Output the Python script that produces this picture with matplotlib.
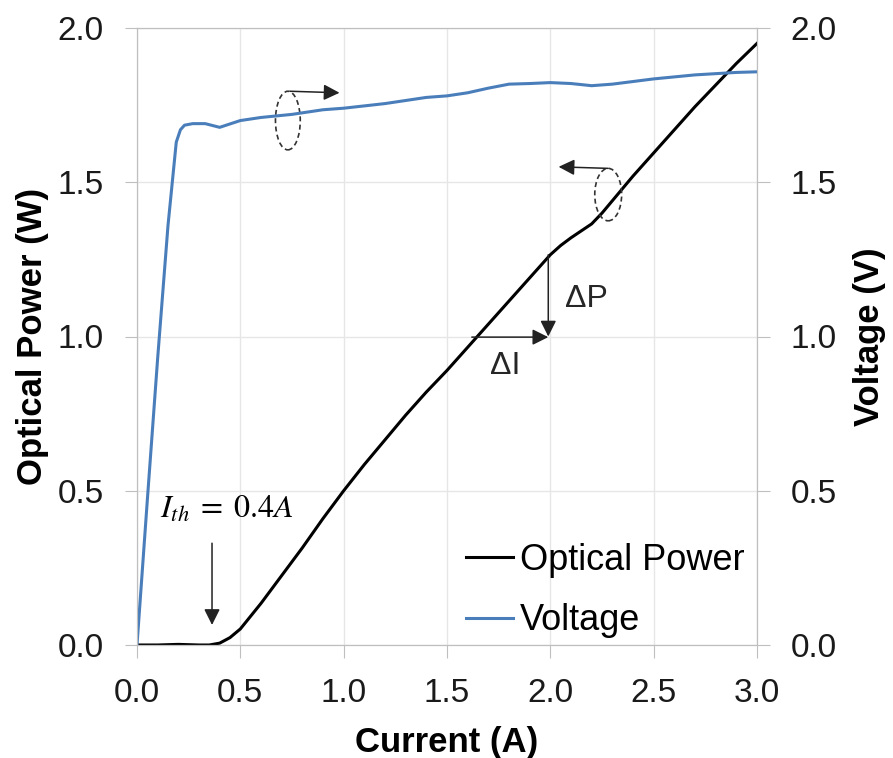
import matplotlib
matplotlib.use("Agg")
import matplotlib.pyplot as plt
from matplotlib.patches import Ellipse

# L-I-V data
current_p = [0, 0.1, 0.2, 0.3, 0.35, 0.4, 0.45, 0.5, 0.6, 0.7, 0.8, 0.9, 1.0, 1.1, 1.2,
             1.3, 1.4, 1.5, 1.6, 1.7, 1.8, 1.9, 2.0, 2.05, 2.1, 2.2, 2.25, 2.3, 2.4, 2.5,
             2.6, 2.7, 2.8, 2.9, 3.0]
power = [0, 0, 0.002, 0, 0, 0.006, 0.024, 0.052, 0.135, 0.225, 0.315, 0.41, 0.5, 0.585,
         0.665, 0.745, 0.82, 0.89, 0.965, 1.04, 1.115, 1.19, 1.265, 1.295, 1.32, 1.365,
         1.40, 1.44, 1.52, 1.595, 1.67, 1.745, 1.815, 1.885, 1.95]

current_v = [0, 0.05, 0.1, 0.15, 0.19, 0.21, 0.23, 0.27, 0.33, 0.4, 0.5, 0.6, 0.75, 0.9,
             1.0, 1.2, 1.4, 1.5, 1.6, 1.7, 1.8, 1.9, 2.0, 2.1, 2.2, 2.3, 2.5, 2.7, 2.9, 3.0]
voltage = [0, 0.47, 0.93, 1.36, 1.63, 1.67, 1.685, 1.69, 1.69, 1.678, 1.70, 1.71, 1.72,
           1.735, 1.74, 1.755, 1.775, 1.78, 1.79, 1.805, 1.818, 1.82, 1.823, 1.82, 1.813,
           1.818, 1.835, 1.848, 1.856, 1.858]

ticks = [0.0, 0.5, 1.0, 1.5, 2.0]
xticks = [0.0, 0.5, 1.0, 1.5, 2.0, 2.5, 3.0]

plt.rcParams['font.family'] = ['Liberation Sans', 'DejaVu Sans']
plt.rcParams['mathtext.fontset'] = 'stix'

fig = plt.figure(figsize=(8.93, 7.58), dpi=100)
ax1 = fig.add_axes([137/893, 1 - 645/758, 620/893, 617/758])
ax2 = ax1.twinx()

gray = '#BFBFBF'
l1, = ax1.plot(current_p, power, color='black', lw=2.2)
l2, = ax2.plot(current_v, voltage, color='#4A7EBB', lw=2.2)

for ax in (ax1, ax2):
    ax.set_xlim(0, 3.0)
    ax.set_ylim(0, 2.0)
    ax.set_yticks(ticks)
    ax.set_yticklabels(['%.1f' % t for t in ticks])
    for s in ax.spines.values():
        s.set_color(gray)
ax1.set_xticks(xticks)
ax1.set_xticklabels(['%.1f' % t for t in xticks])
ax1.grid(True, color='#E6E6E6', lw=1)
ax1.set_axisbelow(True)
ax1.tick_params(direction='out', length=9, color=gray, labelsize=24, pad=15,
                labelcolor='#1a1a1a')
ax2.tick_params(direction='out', length=9, color=gray, labelsize=24, pad=15,
                labelcolor='#1a1a1a')

ax1.set_xlabel('Current (A)', fontsize=25, fontweight='bold', labelpad=12)
ax1.set_ylabel('Optical Power (W)', fontsize=25, fontweight='bold', labelpad=6)
ax2.set_ylabel('Voltage (V)', fontsize=25, fontweight='bold', labelpad=12)

# annotations
arr = dict(arrowstyle='-|>', color='#222222', lw=1.1, mutation_scale=24,
           shrinkA=0, shrinkB=0)
ax2.add_patch(Ellipse((0.73, 1.70), 0.12, 0.19, fill=False, ls=(0, (3, 2)), lw=1.2,
                      ec='#333333'))
ax2.annotate('', xy=(0.98, 1.79), xytext=(0.74, 1.795), arrowprops=arr)
ax2.add_patch(Ellipse((2.28, 1.46), 0.13, 0.17, fill=False, ls=(0, (3, 2)), lw=1.2,
                      ec='#333333'))
ax2.annotate('', xy=(2.04, 1.55), xytext=(2.28, 1.545), arrowprops=arr)

ax2.annotate('', xy=(1.99, 1.0), xytext=(1.99, 1.265), arrowprops=arr)
ax2.annotate('', xy=(1.99, 0.998), xytext=(1.62, 0.998), arrowprops=arr)
ax2.text(2.07, 1.12, '\u0394P', fontsize=23, color='#262626', va='center', ha='left')
ax2.text(1.71, 0.905, '\u0394I', fontsize=23, color='#262626', va='center', ha='left')

ax2.annotate('', xy=(0.363, 0.065), xytext=(0.363, 0.33), arrowprops=arr)
ax2.text(0.11, 0.44, r'$I_{th}\;=\;0.4A$', fontsize=23, color='black', va='center',
         ha='left')

leg = ax2.legend([l1, l2], ['Optical Power', 'Voltage'], loc='lower left',
                 bbox_to_anchor=(466/893, 0.158), bbox_transform=fig.transFigure,
                 frameon=False, fontsize=26, handlelength=1.3, handletextpad=0.2,
                 labelspacing=0.7, borderpad=0, borderaxespad=0)

fig.savefig('out.png', dpi=100)
